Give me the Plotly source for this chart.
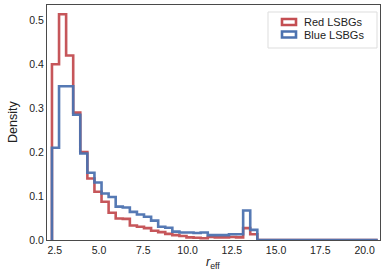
import plotly.graph_objects as go

# Histogram bin edges (width 0.4) and densities
bin_start = 2.34
bin_width = 0.4
red_density = [0.40, 0.514, 0.42, 0.29, 0.20, 0.14, 0.11, 0.087, 0.062, 0.049,
               0.048, 0.033, 0.030, 0.027, 0.021, 0.018, 0.014, 0.011, 0.009, 0.006,
               0.005, 0.004, 0.007, 0.006, 0.006, 0.007, 0.006, 0.027, 0.013, 0.0,
               0.0, 0.0, 0.0, 0.0, 0.0, 0.0, 0.0, 0.0, 0.0, 0.0,
               0.0, 0.0, 0.0, 0.0, 0.0, 0.0]
blue_density = [0.21, 0.35, 0.35, 0.285, 0.197, 0.153, 0.131, 0.106, 0.098, 0.076,
                0.074, 0.064, 0.058, 0.053, 0.044, 0.030, 0.028, 0.019, 0.017, 0.017,
                0.016, 0.017, 0.011, 0.011, 0.011, 0.013, 0.013, 0.067, 0.023, 0.0,
                0.0, 0.0, 0.0, 0.0, 0.0, 0.0, 0.0, 0.0, 0.0, 0.0,
                0.0, 0.0, 0.0, 0.0, 0.0, 0.0]
series_names = ["Red LSBGs", "Blue LSBGs"]
x_ticks = [2.5, 5.0, 7.5, 10.0, 12.5, 15.0, 17.5, 20.0]
y_ticks = [0.0, 0.1, 0.2, 0.3, 0.4, 0.5]

RED = "#C44E52"
BLUE = "#4C72B0"
FONT = "Liberation Sans, Arial"

edges = [bin_start + bin_width * i for i in range(len(red_density) + 1)]


def step_xy(vals):
    xs = [edges[0]] + edges[:len(vals)] + [edges[len(vals)]]
    ys = [0.0] + list(vals) + [0.0]
    return xs, ys


fig = go.Figure()
for name, vals, col in [(series_names[0], red_density, RED),
                        (series_names[1], blue_density, BLUE)]:
    xs, ys = step_xy(vals)
    fig.add_trace(go.Scatter(x=xs, y=ys, mode="lines", name=name,
                             line=dict(color=col, width=2.6, shape="hv"),
                             opacity=0.95, showlegend=False))

axis_common = dict(showline=True, mirror=True, linecolor="#4a4a4a", linewidth=1,
                   showgrid=False, zeroline=False, ticks="", automargin=False,
                   tickfont=dict(family=FONT, size=10.5, color="#222"))

L, R, T, B = 47, 10, 5, 33
W, H = 390, 273
PW, PH = W - L - R, H - T - B

fig.update_layout(
    width=W, height=H,
    margin=dict(l=L, r=R, t=T, b=B),
    paper_bgcolor="white", plot_bgcolor="white",
    xaxis=dict(range=[2.06, 20.87], tickvals=x_ticks,
               ticktext=[f"{v:.1f}" for v in x_ticks], **axis_common),
    yaxis=dict(range=[0, 0.535], tickvals=y_ticks,
               ticktext=[f"{v:.1f}" for v in y_ticks], **axis_common),
)


def px(xp):
    return (xp - L) / PW


def py(yp):
    return (H - B - yp) / PH


# Axis titles
fig.add_annotation(xref="paper", yref="paper", x=px(213), y=py(263),
                   text="<i>r</i><sub>eff</sub>", showarrow=False,
                   xanchor="center", yanchor="middle",
                   font=dict(family=FONT, size=12.5, color="#222"))
fig.add_annotation(xref="paper", yref="paper", x=px(13), y=py(122),
                   text="Density", showarrow=False, textangle=-90,
                   xanchor="center", yanchor="middle",
                   font=dict(family=FONT, size=12.5, color="#222"))

# Legend drawn manually with hollow rectangle patches (matplotlib style)
fig.add_shape(type="rect", xref="paper", yref="paper",
              x0=px(268), x1=px(377), y0=py(48), y1=py(12),
              line=dict(color="#dddddd", width=1), fillcolor="rgba(255,255,255,0.8)")
for i, (name, col) in enumerate([(series_names[0], RED), (series_names[1], BLUE)]):
    yc = 22 + 12.5 * i
    fig.add_shape(type="rect", xref="paper", yref="paper",
                  x0=px(282), x1=px(296), y0=py(yc + 3), y1=py(yc - 3),
                  line=dict(color=col, width=2.6), fillcolor="rgba(0,0,0,0)")
    fig.add_annotation(xref="paper", yref="paper", x=px(302), y=py(yc),
                       text=name, showarrow=False, xanchor="left", yanchor="middle",
                       font=dict(family=FONT, size=11, color="#222"))

fig.write_html("out.html", config={"displayModeBar": False},
               post_script="document.body.style.margin='0';document.body.style.overflow='hidden';")
